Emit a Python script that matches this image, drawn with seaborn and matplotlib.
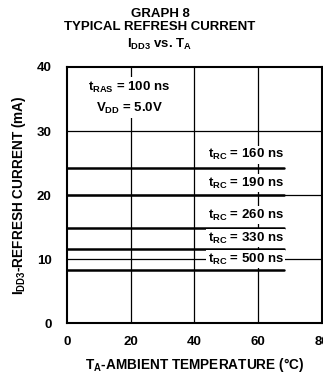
import matplotlib
matplotlib.use("Agg")
import matplotlib.pyplot as plt
import seaborn as sns
import pandas as pd

# Refresh current vs. ambient temperature, one flat curve per t_RC
trc_labels = ["160", "190", "260", "330", "500"]
idd3_ma = [24.2, 20.0, 14.8, 11.6, 8.3]
temp_range = [0, 68]
label_y = [26.3, 21.9, 16.9, 13.3, 10.0]

x_ticks = [0, 20, 40, 60, 80]
y_ticks = [0, 10, 20, 30, 40]

rows = []
for lab, val in zip(trc_labels, idd3_ma):
    for t in temp_range:
        rows.append({"trc": lab, "temp": t, "idd": val})
df = pd.DataFrame(rows)

sns.set_theme(style="white")
plt.rcParams["font.family"] = ["Liberation Sans", "DejaVu Sans"]
plt.rcParams["font.weight"] = "bold"
plt.rcParams["text.color"] = "black"
plt.rcParams["axes.labelcolor"] = "black"
plt.rcParams["mathtext.fontset"] = "custom"
plt.rcParams["mathtext.rm"] = "Liberation Sans:bold"
plt.rcParams["mathtext.default"] = "rm"

FS = 9.5

fig = plt.figure(figsize=(3.23, 3.76), dpi=100)
ax = fig.add_axes([0.2065, 0.140, 0.7905, 0.682])

# grid drawn as thin lines behind the curves
for gx in [20, 40, 60]:
    ax.axvline(gx, color="black", lw=0.9, zorder=1)
for gy in [10, 20, 30]:
    ax.axhline(gy, color="black", lw=0.9, zorder=1)

sns.lineplot(data=df, x="temp", y="idd", units="trc", estimator=None,
             color="black", linewidth=1.8, ax=ax, zorder=2, legend=False)

ax.set_xlim(0, 80)
ax.set_ylim(0, 40)
ax.set_xticks(x_ticks)
ax.set_yticks(y_ticks)
ax.tick_params(axis="x", labelsize=FS, length=0, pad=9, colors="black")
ax.tick_params(axis="y", labelsize=FS, length=0, pad=11, colors="black")
for s in ax.spines.values():
    s.set_color("black")
    s.set_linewidth(1.5)

for lab, ly in zip(trc_labels, label_y):
    ax.text(68, ly, r"t$_{\mathrm{RC}}$ = " + lab + " ns", ha="right", va="center",
            fontsize=FS, fontweight="bold", zorder=3,
            bbox=dict(facecolor="white", edgecolor="none", pad=1.0))

ax.text(19.6, 36.8, r"t$_{\mathrm{RAS}}$ = 100 ns", ha="center", va="center",
        fontsize=FS, fontweight="bold", zorder=3,
        bbox=dict(facecolor="white", edgecolor="none", pad=2))
ax.text(19.6, 33.6, r"V$_{\mathrm{DD}}$ = 5.0V", ha="center", va="center",
        fontsize=FS, fontweight="bold", zorder=3,
        bbox=dict(facecolor="white", edgecolor="none", pad=2))

ax.set_xlabel(r"T$_{\mathrm{A}}$-AMBIENT TEMPERATURE (°C)", fontsize=9.8,
              fontweight="bold", labelpad=6)
ax.set_ylabel(r"I$_{\mathrm{DD3}}$-REFRESH CURRENT (mA)", fontsize=9.8,
              fontweight="bold", labelpad=6)

fig.text(0.495, 0.964, "GRAPH 8", ha="center", va="center", fontsize=FS, fontweight="bold")
fig.text(0.495, 0.927, "TYPICAL REFRESH CURRENT", ha="center", va="center",
         fontsize=FS, fontweight="bold")
fig.text(0.495, 0.883, r"I$_{\mathrm{DD3}}$ vs. T$_{\mathrm{A}}$", ha="center",
         va="center", fontsize=FS, fontweight="bold")

fig.savefig("out.png", dpi=100)
